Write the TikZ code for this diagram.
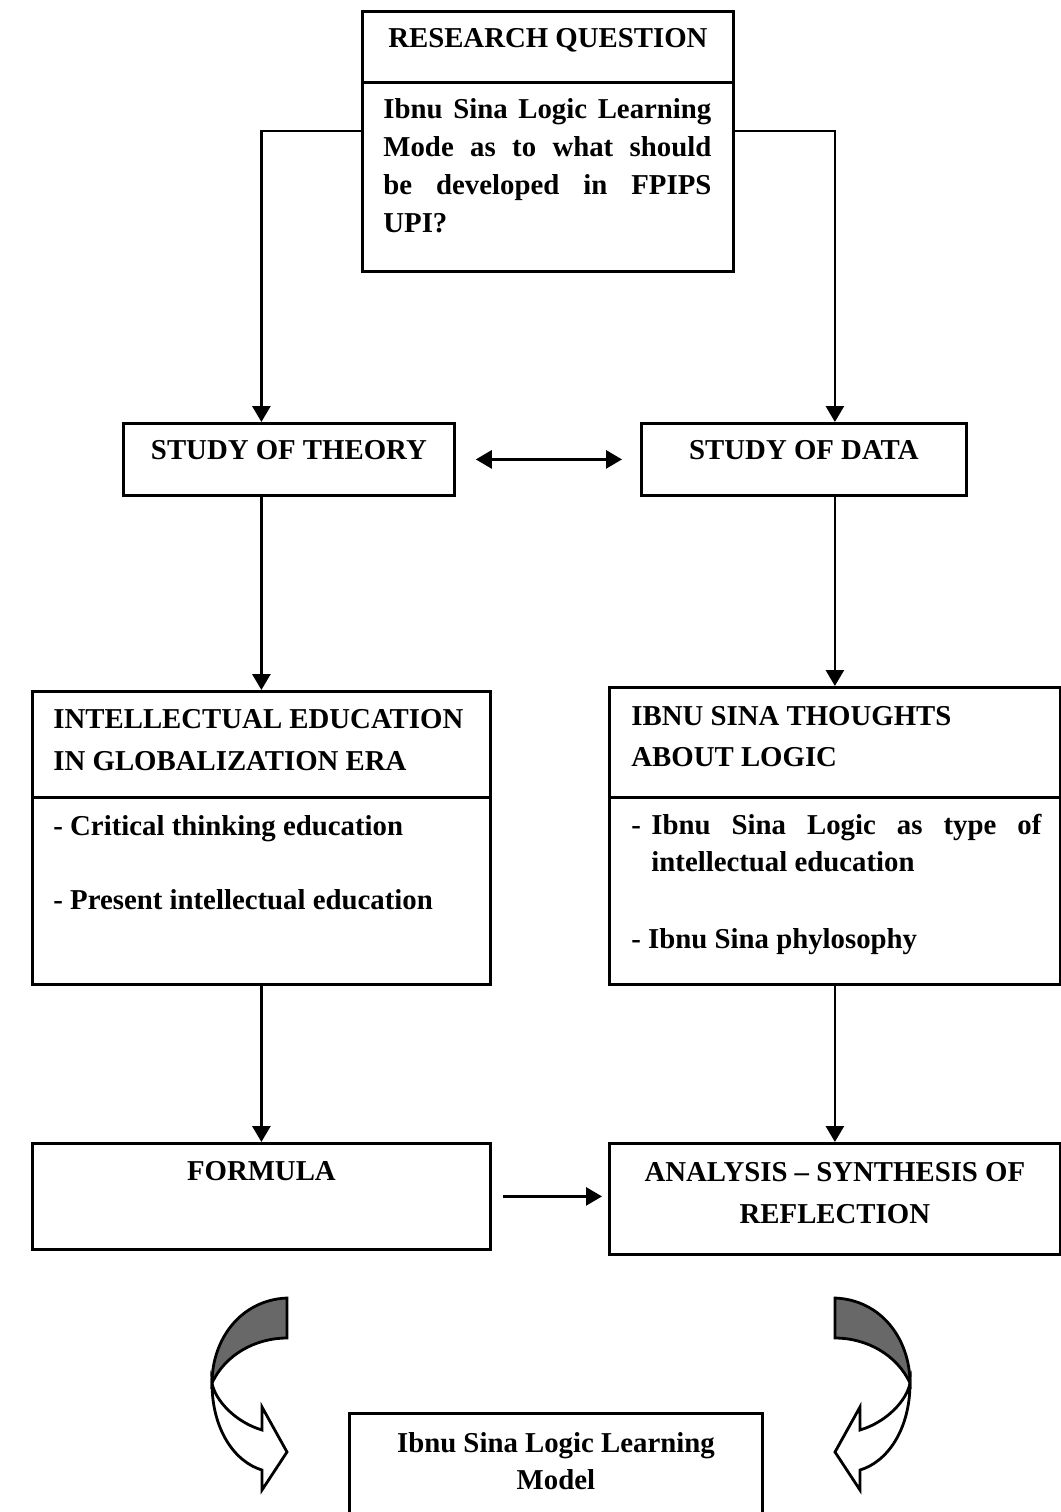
\documentclass[tikz,border=0pt]{standalone}
\usepackage{fontspec}
\setmainfont{Liberation Serif}
\usetikzlibrary{arrows.meta}

\definecolor{foldgray}{RGB}{104,104,104}

\begin{document}
\begin{tikzpicture}[
  x=0.5pt,
  y=-0.5pt,
  >={Triangle[length=8pt,width=9pt]},
  line width=1.4pt,
  frame/.style={
    draw,
    inner sep=0pt,
    anchor=north west
  },
  txt/.style={
    inner sep=0pt,
    font=\bfseries\fontsize{14.4}{19}\selectfont
  },
  bendarrow/.pic={
    \filldraw[fill=foldgray] (0,0) .. controls (-47,2) and (-75,42) .. (-75,85)
      .. controls (-62,57) and (-32,40) .. (0,40) -- cycle;
    \filldraw[fill=white] (-75,85) .. controls (-75,132) and (-52,164) .. (-25,172)
      -- (-25,192) -- (0,154) -- (-25,109) -- (-25,132)
      .. controls (-52,124) and (-72,102) .. (-75,85) -- cycle;
  }
]
  \useasboundingbox (0,0) rectangle (1061,1512);

  % frames
  \node[frame,minimum width=185.5pt,minimum height=35.5pt] (rqhead) at (361,10) {};
  \node[frame,minimum width=185.5pt,minimum height=94.5pt] (rqbody) at (361,81) {};
  \node[frame,minimum width=165.5pt,minimum height=36pt] (theory) at (122,422) {};
  \node[frame,minimum width=162.5pt,minimum height=36pt] (data) at (640,422) {};
  \node[frame,minimum width=229pt,minimum height=53pt] (intelhead) at (31,690) {};
  \node[frame,minimum width=229pt,minimum height=93.5pt] (intelbody) at (31,796) {};
  \node[frame,minimum width=225.5pt,minimum height=55pt] (thoughtshead) at (608,686) {};
  \node[frame,minimum width=225.5pt,minimum height=93.5pt] (thoughtsbody) at (608,796) {};
  \node[frame,minimum width=229pt,minimum height=53pt] (formula) at (31,1142) {};
  \node[frame,minimum width=225.5pt,minimum height=55.5pt] (analysis) at (608,1142) {};
  \node[frame,minimum width=206.5pt,minimum height=60pt] (model) at (348,1412) {};

  % texts
  \node[txt,anchor=base] (rqtitle) at ([yshift=-18.5pt]rqhead.north) {RESEARCH QUESTION};
  \node[txt,anchor=north west,text width=164pt,align=justify] (rqtext)
    at ([xshift=10.5pt,yshift=-8pt]rqbody.north west)
    {Ibnu Sina Logic Learning\linebreak Mode as to what should\linebreak
     be developed in FPIPS\linebreak UPI?};
  \node[txt,anchor=base] (theorytxt) at ([yshift=-18.5pt]theory.north) {STUDY OF THEORY};
  \node[txt,anchor=base] (datatxt) at ([yshift=-18.5pt]data.north) {STUDY OF DATA};
  \node[txt,anchor=north west,align=left,font=\bfseries\fontsize{14.4}{21}\selectfont]
    (inteltitle) at ([xshift=10.5pt,yshift=-9pt]intelhead.north west)
    {INTELLECTUAL EDUCATION\\IN GLOBALIZATION ERA};
  \node[txt,anchor=north west,align=left] (inteltxt)
    at ([xshift=10.5pt,yshift=-9pt]intelbody.north west)
    {- Critical thinking education\\[18pt]- Present intellectual education};
  \node[txt,anchor=north west,align=left,font=\bfseries\fontsize{14.4}{20.5}\selectfont]
    (thoughtstitle) at ([xshift=11pt,yshift=-9.5pt]thoughtshead.north west)
    {IBNU SINA THOUGHTS\\ABOUT LOGIC};
  \node[txt,anchor=north west,text width=205pt,align=justify,
    font=\bfseries\fontsize{14.4}{18.5}\selectfont] (thoughtstxt)
    at ([xshift=11pt,yshift=-8.5pt]thoughtsbody.north west)
    {\hangindent=10pt\hangafter=1
     \makebox[10pt][l]{-}Ibnu Sina Logic as type of\linebreak intellectual education\par
     \vspace{20pt}- Ibnu Sina phylosophy};
  \node[txt,anchor=base] (formulatxt) at ([yshift=-19pt]formula.north) {FORMULA};
  \node[txt,anchor=north,align=center,font=\bfseries\fontsize{14.4}{21}\selectfont]
    (analysistxt) at ([yshift=-9.5pt]analysis.north)
    {ANALYSIS -- SYNTHESIS OF\\REFLECTION};
  \node[txt,anchor=north,align=center,font=\bfseries\fontsize{14.4}{18.5}\selectfont]
    (modeltxt) at ([yshift=-9.5pt]model.north)
    {Ibnu Sina Logic Learning\\Model};

  % connectors
  \draw[->] ([yshift=-25pt]rqbody.north west) -| (theory.north -| intelhead.north);
  \draw[->] ([yshift=-25pt]rqbody.north east) -| (data.north -| thoughtshead.north);
  \draw[<->,shorten <=10pt,shorten >=9pt] (theory) -- (data);
  \draw[->] (theory.south -| intelhead.north) -- (intelhead.north);
  \draw[->] (data.south -| thoughtshead.north) -- (thoughtshead.north);
  \draw[->] (intelbody.south) -- (formula.north);
  \draw[->] (thoughtsbody.south) -- (analysis.north);
  \draw[->,shorten <=5.5pt,shorten >=3pt] (formula.east) -- (formula.east -| analysis.west);

  % bent arrows towards the model
  \pic at (287,1298) {bendarrow};
  \pic[xscale=-1] at (835,1298) {bendarrow};
\end{tikzpicture}
\end{document}
